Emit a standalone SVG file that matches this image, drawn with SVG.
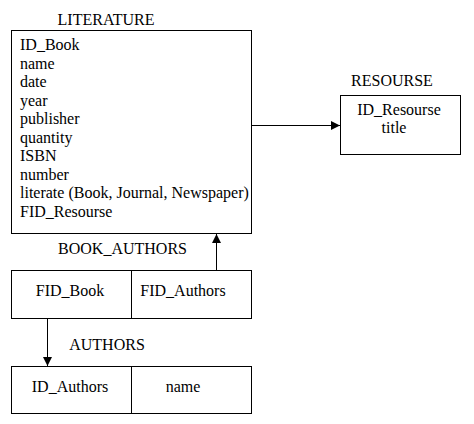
<svg xmlns="http://www.w3.org/2000/svg" width="474" height="424" viewBox="0 0 474 424">
<style>
text{font-family:"Liberation Serif","Times New Roman",serif;font-size:16px;fill:#000}
.box{fill:#fff;stroke:#000;stroke-width:1}
.c{text-anchor:middle}
.ln{stroke:#000;stroke-width:1;fill:none}
</style>
<defs>
<marker id="ah" viewBox="0 0 10 10" refX="10" refY="5" markerWidth="9" markerHeight="9" markerUnits="userSpaceOnUse" orient="auto">
<path d="M0,0 L10,5 L0,10 z" fill="#000"/>
</marker>
</defs>
<rect width="474" height="424" fill="#fff"/>
<g id="literature">
<text class="c" x="106" y="25">LITERATURE</text>
<rect class="box" x="11.5" y="30.5" width="240" height="203"/>
<text x="20" y="50">ID_Book</text>
<text x="20" y="68.5">name</text>
<text x="20" y="87">date</text>
<text x="20" y="105.5">year</text>
<text x="20" y="124">publisher</text>
<text x="20" y="142.5">quantity</text>
<text x="20" y="161">ISBN</text>
<text x="20" y="179.5">number</text>
<text x="20" y="198">literate (Book, Journal, Newspaper)</text>
<text x="20" y="216.5">FID_Resourse</text>
</g>
<g id="resourse">
<text class="c" x="392" y="86">RESOURSE</text>
<rect class="box" x="340.5" y="95.5" width="120" height="59"/>
<text class="c" x="399" y="115">ID_Resourse</text>
<text class="c" x="394" y="133">title</text>
</g>
<g id="book_authors">
<text class="c" x="122.5" y="254">BOOK_AUTHORS</text>
<rect class="box" x="11.5" y="270.5" width="240" height="48"/>
<line class="ln" x1="131.5" y1="270.5" x2="131.5" y2="318.5"/>
<text class="c" x="70" y="296">FID_Book</text>
<text class="c" x="183" y="296">FID_Authors</text>
</g>
<g id="authors">
<text class="c" x="107" y="350">AUTHORS</text>
<rect class="box" x="11.5" y="366.5" width="240" height="47"/>
<line class="ln" x1="131.5" y1="366.5" x2="131.5" y2="413.5"/>
<text class="c" x="70" y="392">ID_Authors</text>
<text class="c" x="183" y="392">name</text>
</g>
<g id="connectors">
<line class="ln" x1="251.5" y1="125.5" x2="340" y2="125.5" marker-end="url(#ah)"/>
<line class="ln" x1="216.5" y1="270.5" x2="216.5" y2="234" marker-end="url(#ah)"/>
<line class="ln" x1="47.5" y1="318.5" x2="47.5" y2="366" marker-end="url(#ah)"/>
</g>
</svg>
